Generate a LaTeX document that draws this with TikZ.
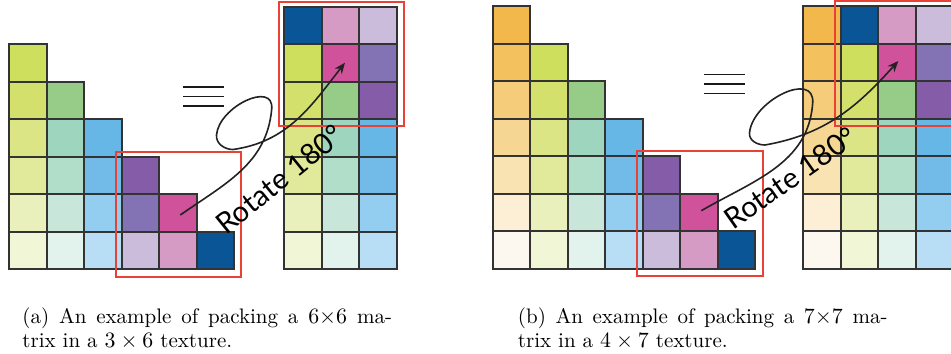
\documentclass[tikz,border=0pt]{standalone}
\usepackage{fontspec}
\usepackage{tikz}
\usetikzlibrary{arrows.meta}
\newfontfamily\rotfont{Lato}

\definecolor{pal10}{HTML}{0A5595}
\definecolor{pal20}{HTML}{CF529B}
\definecolor{pal21}{HTML}{D69BC4}
\definecolor{pal30}{HTML}{845CA7}
\definecolor{pal31}{HTML}{8372B4}
\definecolor{pal32}{HTML}{CCBCDB}
\definecolor{pal40}{HTML}{66B7E5}
\definecolor{pal41}{HTML}{72BAE7}
\definecolor{pal42}{HTML}{93CDF0}
\definecolor{pal43}{HTML}{B8DEF5}
\definecolor{pal50}{HTML}{96CC88}
\definecolor{pal51}{HTML}{9ED5BF}
\definecolor{pal52}{HTML}{B0DEC9}
\definecolor{pal53}{HTML}{C9E6DA}
\definecolor{pal54}{HTML}{E2F3EE}
\definecolor{pal60}{HTML}{CEDF5E}
\definecolor{pal61}{HTML}{D3E06B}
\definecolor{pal62}{HTML}{DCE586}
\definecolor{pal63}{HTML}{E1E99A}
\definecolor{pal64}{HTML}{E9F0BC}
\definecolor{pal65}{HTML}{F1F6D7}
\definecolor{pal70}{HTML}{F2B84B}
\definecolor{pal71}{HTML}{F3C15E}
\definecolor{pal72}{HTML}{F4CC7A}
\definecolor{pal73}{HTML}{F6D693}
\definecolor{pal74}{HTML}{FAE3B2}
\definecolor{pal75}{HTML}{FCEFD5}
\definecolor{pal76}{HTML}{FCF8F0}
\definecolor{boxred}{HTML}{EA4136}
\definecolor{arrowgray}{HTML}{222222}

\begin{document}
\begin{tikzpicture}[
  x=0.5pt, y=0.5pt,
  cell/.style={draw=black!80, line width=0.85pt},
  redbox/.style={draw=boxred, line width=1pt},
  rotarr/.style={-{Stealth[length=5.5pt,width=4.5pt]}, draw=arrowgray, line width=0.8pt},
  eqline/.style={draw=black!90, line width=0.8pt},
  rotlabel/.style={font=\rotfont\fontsize{14.5}{15}\selectfont, inner sep=0pt},
  caption/.style={anchor=north west, inner sep=0pt, text width=184.8pt, align=justify,
    font={\fontsize{10.5}{11.8}\selectfont\tolerance=10000\hbadness=10000}}
]
\useasboundingbox (0,0) rectangle (951,353);
\clip (0,0) rectangle (951,353);

% (a) 6x6 lower triangle
\foreach \j in {0,...,5}{
  \pgfmathtruncatemacro\nc{6-\j}
  \foreach \k in {1,...,\nc}{
    \pgfmathtruncatemacro\sh{\nc-\k}
    \filldraw[cell, fill=pal\nc\sh] ({9.3+37.5*\j}, {46.2+37.5*\k}) rectangle ++(37.5,37.5);
  }
}
% (a) 3x6 texture
\foreach \j in {0,1,2}{
  \pgfmathtruncatemacro\nc{6-\j}
  \foreach \k in {1,...,\nc}{
    \pgfmathtruncatemacro\sh{\nc-\k}
    \filldraw[cell, fill=pal\nc\sh] ({284.3+37.5*\j}, {46.3+37.5*\k}) rectangle ++(37.5,37.5);
  }
  \pgfmathtruncatemacro\nr{\j+1}
  \foreach \k in {1,...,\nr}{
    \pgfmathtruncatemacro\sh{\k-1}
    \filldraw[cell, fill=pal\nr\sh] ({284.3+37.5*\j}, {46.3+37.5*(\nc+\k)}) rectangle ++(37.5,37.5);
  }
}

% (b) 7x7 lower triangle
\foreach \j in {0,...,6}{
  \pgfmathtruncatemacro\nc{7-\j}
  \foreach \k in {1,...,\nc}{
    \pgfmathtruncatemacro\sh{\nc-\k}
    \filldraw[cell, fill=pal\nc\sh] ({492.7+37.5*\j}, {46.8+37.5*\k}) rectangle ++(37.5,37.5);
  }
}
% (b) 4x7 texture
\foreach \j in {0,...,3}{
  \pgfmathtruncatemacro\nc{7-\j}
  \foreach \k in {1,...,\nc}{
    \pgfmathtruncatemacro\sh{\nc-\k}
    \filldraw[cell, fill=pal\nc\sh] ({803.3+37.5*\j}, {46.8+37.5*\k}) rectangle ++(37.5,37.5);
  }
}
\foreach \j in {1,2,3}{
  \foreach \k in {1,...,\j}{
    \pgfmathtruncatemacro\sh{\k-1}
    \filldraw[cell, fill=pal\j\sh] ({803.3+37.5*\j}, {46.8+37.5*(7-\j+\k)}) rectangle ++(37.5,37.5);
  }
}

% red frames
\draw[redbox] (115.7,76.3) rectangle (240.7,201.3);
\draw[redbox] (279.3,226.7) rectangle (404.3,351.3);
\draw[redbox] (637.3,77) rectangle (762.7,202.3);
\draw[redbox] (835,227.3) rectangle (960,352.2);

% equivalence signs
\foreach \y in {247,256.3,265.7} \draw[eqline] (183.3,\y) -- (224,\y);
\foreach \y in {259.3,269,278.3} \draw[eqline] (704.3,\y) -- (745.3,\y);

% rotation arrows
\coordinate (a-from) at (180.3,138);
\coordinate (a-right) at (271.7,244);
\coordinate (a-left) at (216.5,218);
\coordinate (a-low) at (233,203.5);
\coordinate (a-to) at (345,290.3);
\draw[rotarr] (a-from) to[out=35,in=-95] (a-right) to[out=85,in=85,looseness=1.2] (a-left)
  to[out=-95,in=180] (a-low) to[out=8,in=-128] (a-to);

\coordinate (b-from) at (701.3,142.3);
\coordinate (b-right) at (812.7,250);
\coordinate (b-left) at (749.5,220);
\coordinate (b-low) at (765,208);
\coordinate (b-to) at (898.3,292);
\draw[rotarr] (b-from) to[out=30,in=-94] (b-right) to[out=86,in=85,looseness=1.2] (b-left)
  to[out=-95,in=180] (b-low) to[out=10,in=-132] (b-to);

\node[rotlabel, rotate=39] (a-rot) at (279.5,173.5) {Rotate 180°};
\node[rotlabel, rotate=35] (b-rot) at (790,175) {Rotate 180°};

% captions
\node[caption] (a-cap) at (22,45.5) {(a) An example of packing a $6{\times}6$ ma-\linebreak trix in a $3\times 6$ texture.};
\node[caption] (b-cap) at (517.5,45.5) {(b) An example of packing a $7{\times}7$ ma-\linebreak trix in a $4\times 7$ texture.};
\end{tikzpicture}
\end{document}
